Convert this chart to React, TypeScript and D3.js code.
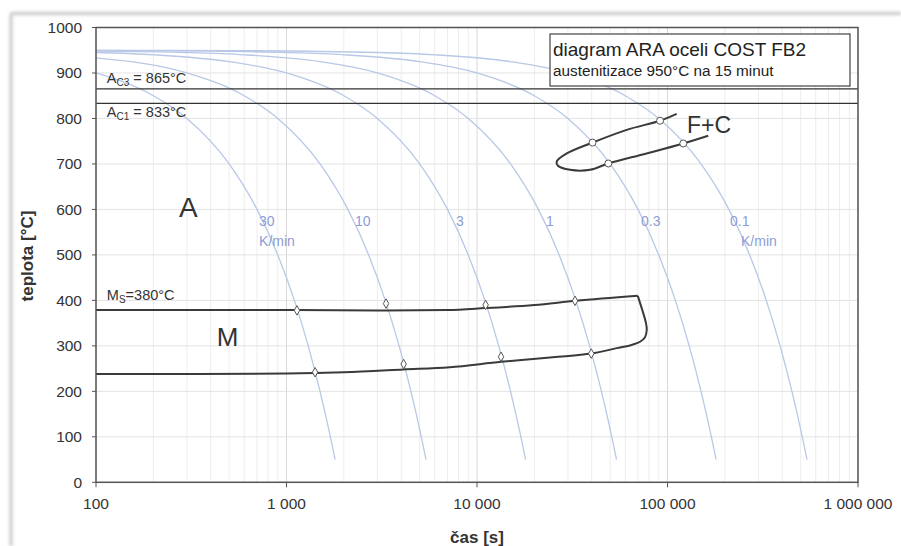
import * as d3 from 'd3';

// axis ticks
const tempTicks = [0, 100, 200, 300, 400, 500, 600, 700, 800, 900, 1000];
const timeTicks = [100, 1000, 10000, 100000, 1000000];
const timeTickLabels = ['100', '1 000', '10 000', '100 000', '1 000 000'];

// cooling curves [time s, temperature °C]
const curve30 = [[100, 900], [200, 850], [300, 800], [500, 700], [700, 600], [900, 500], [1100, 400], [1300, 300], [1500, 200], [1700, 100], [1800, 50]];
const curve10 = [[100, 933], [300, 900], [600, 850], [900, 800], [1500, 700], [2100, 600], [2700, 500], [3300, 400], [3900, 300], [4500, 200], [5100, 100], [5400, 50]];
const curve3 = [[100, 945], [200, 940], [500, 925], [1000, 900], [2000, 850], [3000, 800], [5000, 700], [7000, 600], [9000, 500], [11000, 400], [13000, 300], [15000, 200], [17000, 100], [18000, 50]];
const curve1 = [[100, 948], [300, 945], [600, 940], [1500, 925], [3000, 900], [6000, 850], [9000, 800], [15000, 700], [21000, 600], [27000, 500], [33000, 400], [39000, 300], [45000, 200], [51000, 100], [54000, 50]];
const curve03 = [[100, 949.5], [400, 948], [1000, 945], [2000, 940], [5000, 925], [10000, 900], [20000, 850], [30000, 800], [50000, 700], [70000, 600], [90000, 500], [110000, 400], [130000, 300], [150000, 200], [170000, 100], [180000, 50]];
const curve01 = [[100, 949.8], [600, 949], [3000, 945], [6000, 940], [15000, 925], [30000, 900], [60000, 850], [90000, 800], [150000, 700], [210000, 600], [270000, 500], [330000, 400], [390000, 300], [450000, 200], [510000, 100], [540000, 50]];
const coolingCurves = [curve30, curve10, curve3, curve1, curve03, curve01];

const rateLabels = ['30', '10', '3', '1', '0.3', '0.1'];
const rateLabelTimes = [718, 2290, 7760, 23000, 72600, 212900];

// martensite region
const msLine = [[100, 379], [1000, 379], [3300, 378], [7000, 379], [11000, 383], [20000, 390], [33000, 399], [69800, 410]];
const mfLine = [[69800, 410], [77100, 350], [77800, 335], [76200, 319], [71800, 309], [64800, 302], [54100, 295], [39800, 283], [25000, 275], [13400, 265], [7200, 253], [4100, 248], [2000, 242], [1000, 239], [100, 238]];
const msPoints = [[1135, 378], [3330, 393], [11100, 390], [32700, 399]];
const mfPoints = [[1413, 242], [4120, 260], [13370, 276], [39800, 283]];

// ferrite + carbide region
const fcLine = [[111700, 810], [91400, 795], [61100, 775], [40400, 747], [29600, 723], [26200, 705], [26600, 696], [30800, 687], [39200, 687], [48900, 701], [77600, 723], [121000, 745], [163600, 762]];
const fcPoints = [[91400, 795], [40400, 747], [48900, 701], [121000, 745]];

const AC3 = 865;
const AC1 = 833;

const W = 901;
const H = 546;
const left = 96, right = 858, top = 27.5, bottom = 482.3;
const font = '"Liberation Sans", Arial, sans-serif';

export default function App() {
  const x = d3.scaleLog().domain([100, 1000000]).range([left, right]);
  const y = d3.scaleLinear().domain([0, 1000]).range([bottom, top]);

  const minorTicks: number[] = [];
  for (let d = 100; d < 1000000; d *= 10) {
    for (let k = 2; k <= 9; k++) minorTicks.push(d * k);
  }

  const coolLine = d3.line<number[]>()
    .x(d => x(d[0]))
    .y(d => y(d[1]))
    .curve(d3.curveMonotoneX);

  const smoothLine = d3.line<number[]>()
    .x(d => x(d[0]))
    .y(d => y(d[1]))
    .curve(d3.curveCatmullRom.alpha(0.5));

  const diamond = d3.symbol().type(d3.symbolDiamond).size(26)();

  return (
    <div style={{ position: 'absolute', left: 0, top: 0 }}>
      <svg width={W} height={H} style={{ display: 'block', background: '#fff' }} fontFamily={font}>
        <defs>
          <filter id="soft" x="-5%" y="-5%" width="110%" height="110%">
            <feGaussianBlur stdDeviation="1.5" />
          </filter>
        </defs>

        {/* scan shadow frame */}
        <g filter="url(#soft)" stroke="#cfcfcf" strokeWidth={3.5}>
          <line x1={11} x2={W} y1={13.5} y2={13.5} />
          <line x1={11} x2={11} y1={13.5} y2={H} />
        </g>

        {/* grid */}
        <g>
          {minorTicks.map(t => (
            <line key={'m' + t} x1={x(t)} x2={x(t)} y1={top} y2={bottom} stroke="#ededed" strokeWidth={1} />
          ))}
          {timeTicks.map(t => (
            <line key={'d' + t} x1={x(t)} x2={x(t)} y1={top} y2={bottom} stroke="#d9d9d9" strokeWidth={1} />
          ))}
          {tempTicks.map(v => (
            <line key={'h' + v} x1={left} x2={right} y1={y(v)} y2={y(v)} stroke="#e3e3e3" strokeWidth={1} />
          ))}
        </g>

        {/* cooling curves */}
        <g fill="none" stroke="#b8c8e6" strokeWidth={1.3}>
          {coolingCurves.map((c, i) => <path key={i} d={coolLine(c) || ''} />)}
        </g>
        <g fill="#8d9dd6" fontSize={14}>
          {rateLabels.map((r, i) => (
            <text key={r} x={x(rateLabelTimes[i])} y={y(563)}>{r}</text>
          ))}
          <text x={x(rateLabelTimes[0])} y={y(520)}>K/min</text>
          <text x={x(rateLabelTimes[5]) + 11} y={y(520)}>K/min</text>
        </g>

        {/* Ac lines */}
        <g stroke="#333" strokeWidth={1.3}>
          <line x1={left} x2={right} y1={y(AC3)} y2={y(AC3)} />
          <line x1={left} x2={right} y1={y(AC1)} y2={y(AC1)} />
        </g>
        <g fill="#333" fontSize={14.5}>
          <text x={x(114)} y={y(879)}>A<tspan fontSize={10} dy={3}>C3</tspan><tspan dy={-3}> = {AC3}°C</tspan></text>
          <text x={x(114)} y={y(804)}>A<tspan fontSize={10} dy={3}>C1</tspan><tspan dy={-3}> = {AC1}°C</tspan></text>
          <text x={x(114)} y={y(401)}>M<tspan fontSize={10} dy={3}>S</tspan><tspan dy={-3}>=380°C</tspan></text>
        </g>

        {/* transformation lines */}
        <g fill="none" stroke="#3a3a3a" strokeWidth={2}>
          <path d={coolLine(msLine) || ''} />
          <path d={smoothLine(mfLine) || ''} />
          <path d={smoothLine(fcLine) || ''} />
        </g>
        <g fill="#fff" stroke="#555" strokeWidth={1}>
          {[...msPoints, ...mfPoints].map((p, i) => (
            <path key={i} d={diamond || ''} transform={`translate(${x(p[0])},${y(p[1])})`} />
          ))}
          {fcPoints.map((p, i) => (
            <circle key={'c' + i} cx={x(p[0])} cy={y(p[1])} r={3.5} />
          ))}
        </g>

        {/* region labels */}
        <g fill="#333">
          <text x={x(273)} y={y(583)} fontSize={28}>A</text>
          <text x={x(431)} y={y(300)} fontSize={26}>M</text>
          <text x={x(126500)} y={y(768)} fontSize={23}>F+C</text>
        </g>

        {/* title box */}
        <rect x={550} y={34} width={300} height={52} fill="#fff" stroke="#444" strokeWidth={1.2} />
        <text x={553} y={56} fontSize={19} fill="#222">diagram ARA oceli COST FB2</text>
        <text x={553} y={76} fontSize={15.3} fill="#222">austenitizace 950°C na 15 minut</text>

        {/* frame */}
        <rect x={left} y={top} width={right - left} height={bottom - top} fill="none" stroke="#555" strokeWidth={1.5} />

        {/* y axis */}
        <g fontSize={15.5} fill="#333" textAnchor="end">
          {tempTicks.map(v => (
            <g key={v}>
              <line x1={left - 4} x2={left} y1={y(v)} y2={y(v)} stroke="#555" />
              <text x={82} y={y(v)} dy="0.35em">{v}</text>
            </g>
          ))}
        </g>
        {/* x axis */}
        <g fontSize={15.5} fill="#333" textAnchor="middle">
          {timeTicks.map((t, i) => (
            <g key={t}>
              <line x1={x(t)} x2={x(t)} y1={bottom} y2={bottom + 5} stroke="#555" />
              <text x={x(t)} y={509}>{timeTickLabels[i]}</text>
            </g>
          ))}
        </g>
        <text x={(left + right) / 2} y={543} fontSize={17} fontWeight="bold" fill="#333" textAnchor="middle">čas [s]</text>
        <text transform={`translate(33,256) rotate(-90)`} fontSize={17} fontWeight="bold" fill="#333" textAnchor="middle">teplota [°C]</text>
      </svg>
    </div>
  );
}
